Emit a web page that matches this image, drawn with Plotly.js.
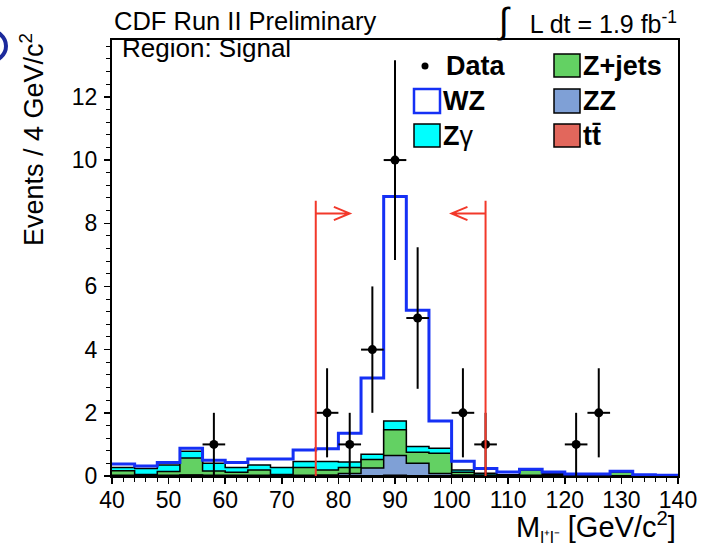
<!DOCTYPE html>
<html>
<head>
<meta charset="utf-8">
<script src="https://cdn.plot.ly/plotly-3.0.1.min.js"></script>
<style>html,body{margin:0;padding:0;background:#fff;}#chart{width:706px;height:546px;}</style>
</head>
<body>
<div id="chart"></div>
<script>
// Bin centres (GeV/c^2), 4 GeV bins
const binCenters = [42,46,50,54,58,62,66,70,74,78,82,86,90,94,98,102,106,110,114,118,122,126,130,134,138];
const binWidth = 4;
// Background / signal expectations per bin
const ttbar  = [0.01,0,0.01,0.02,0.01,0.01,0.01,0,0.01,0.01,0.01,0.01,0.02,0.01,0.01,0.01,0,0,0.01,0,0,0,0,0,0];
const zz     = [0.01,0.01,0.01,0.01,0.01,0.01,0.01,0.01,0.01,0.02,0.07,0.24,0.63,0.39,0.07,0.02,0.01,0.01,0.01,0.01,0.01,0.01,0.01,0,0];
const zjets  = [0.15,0.04,0.12,0.54,0.14,0.10,0.17,0.04,0.25,0.16,0.19,0.27,0.81,0.35,0.64,0.09,0.02,0.01,0.17,0.04,0.02,0.01,0.12,0.02,0.01];
const zgamma = [0.10,0.19,0.21,0.21,0.24,0.15,0.16,0.22,0.19,0.27,0.17,0.17,0.28,0.18,0.16,0.07,0.06,0.02,0.01,0.03,0.01,0.01,0.01,0.01,0];
const wz     = [0.11,0.08,0.08,0.10,0.10,0.16,0.19,0.27,0.36,0.40,0.91,2.41,7.11,4.32,0.86,0.28,0.15,0.09,0.01,0.05,0.02,0.03,0.01,0.01,0.01];
// Observed data
const dataX   = [58,78,82,86,90,94,102,106,122,126];
const dataY   = [1,2,1,4,10,5,2,1,1,2];
const dataErr = [1,1.41,1,2,3.16,2.24,1.41,1,1,1.41];
// Mass window cuts
const cutLow = 76, cutHigh = 106;

const edges = binCenters.map(c => c - binWidth/2).concat([binCenters[binCenters.length-1] + binWidth/2]);
function addArr(a,b){ return a.map((v,i)=>v+b[i]); }
const cTT = ttbar.slice();
const cZZ = addArr(cTT, zz);
const cZJ = addArr(cZZ, zjets);
const cZG = addArr(cZJ, zgamma);
const cWZ = addArr(cZG, wz);
function stepY(v){ return v.concat([v[v.length-1]]); }

const colCyan = '#00ffff', colGreen = '#63d163', colZZ = '#7fa0d6', colTT = '#e2675c', colWZ = '#1530f5', colRed = '#f2382a';

function filled(cum, col){
  return {x: edges, y: stepY(cum), type:'scatter', mode:'lines', line:{shape:'hv', color:'black', width:1.5},
          fill:'tozeroy', fillcolor: col, hoverinfo:'skip'};
}
const traces = [
  filled(cZG, colCyan),
  filled(cZJ, colGreen),
  filled(cZZ, colZZ),
  filled(cTT, colTT),
  {x: edges, y: stepY(cWZ), type:'scatter', mode:'lines', line:{shape:'hv', color:colWZ, width:3}},
  {x: dataX, y: dataY, type:'scatter', mode:'markers', marker:{color:'black', size:9},
   error_y:{type:'data', array:dataErr, color:'black', thickness:2, width:0},
   error_x:{type:'constant', value:binWidth/2, color:'black', thickness:2, width:0}}
];

const L = 112, R = 678, T = 40, B = 476;
const px = v => (v - L)/(R - L);
const py = v => (B - v)/(B - T);
const FONT = 'Liberation Sans, Arial, Helvetica, sans-serif';

function ann(text, x, y, xa, size, extra){
  return Object.assign({text:text, xref:'paper', yref:'paper', x:px(x), y:py(y), xanchor:xa, yanchor:'middle',
    showarrow:false, font:{family:FONT, size:size, color:'black'}}, extra||{});
}
function box(x0,y0,x1,y1,fill,lc,lw){
  return {type:'rect', xref:'paper', yref:'paper', x0:px(x0), x1:px(x1), y0:py(y1), y1:py(y0),
          fillcolor:fill, line:{color:lc, width:lw}};
}

const annotations = [
  ann('CDF Run II Preliminary', 112, 21, 'left', 25.5),
  ann('<span style="font-size:36px">∫</span>   L dt = 1.9 fb<sup>-1</sup>', 679, 20, 'right', 25),
  ann('Region: Signal', 120, 48, 'left', 26),
  ann('<b>Data</b>', 444, 66, 'left', 27),
  ann('<b>Z+jets</b>', 581, 66, 'left', 27),
  ann('<b>WZ</b>', 441, 101, 'left', 27),
  ann('<b>ZZ</b>', 581, 101, 'left', 27),
  ann('<b>Z</b>γ', 441, 136, 'left', 27),
  ann('<b>tt̄</b>', 581, 136, 'left', 27),
  ann('Events / 4 GeV/c<sup>2</sup>', 32, 140, 'center', 27, {textangle:-90}),
  ann('M<sub><span style="font-size:17px">l⁺l⁻</span></sub> [GeV/c<sup>2</sup>]', 678, 527, 'right', 29)
];

const shapes = [
  // cut lines and arrows
  {type:'line', xref:'x', yref:'y', x0:cutLow, x1:cutLow, y0:0, y1:8.71, line:{color:colRed, width:2}},
  {type:'line', xref:'x', yref:'y', x0:cutHigh, x1:cutHigh, y0:0, y1:8.71, line:{color:colRed, width:2}},
  {type:'path', xref:'x', yref:'y', path:'M76,8.31 L82,8.31 M79.2,8.52 L82,8.31 L79.2,8.10', line:{color:colRed, width:2}},
  {type:'path', xref:'x', yref:'y', path:'M106,8.31 L100,8.31 M102.8,8.52 L100,8.31 L102.8,8.10', line:{color:colRed, width:2}},
  // legend
  {type:'circle', xref:'paper', yref:'paper', x0:px(421.5), x1:px(428.5), y0:py(69.5), y1:py(62.5), fillcolor:'black', line:{color:'black', width:0}},
  box(554,54,580,77,colGreen,'black',1.5),
  box(414,89,440,113,'white',colWZ,2.5),
  box(554,89,580,113,colZZ,'black',1.5),
  box(414,124,440,147,colCyan,'black',1.5),
  box(554,124,580,147,colTT,'black',1.5),
  // partial logo at top-left
  {type:'circle', xref:'paper', yref:'paper', x0:px(-30), x1:px(6), y0:py(62), y1:py(30), line:{color:'#1c2a9c', width:4}, fillcolor:'rgba(0,0,0,0)'}
];

const axisCommon = {showline:true, linecolor:'black', linewidth:2, mirror:true, showgrid:false, zeroline:false,
  ticks:'outside', ticklen:6, tickwidth:1.5, tickcolor:'black', tickfont:{family:FONT, size:23, color:'black'}};

const layout = {
  width:706, height:546,
  margin:{l:L, r:706-R, t:T, b:546-B},
  paper_bgcolor:'white', plot_bgcolor:'white',
  showlegend:false,
  font:{family:FONT, color:'black'},
  xaxis:Object.assign({}, axisCommon, {range:[40,140], tick0:40, dtick:10, ticklabelstandoff:-4,
    minor:{dtick:2, tick0:40, ticks:'outside', ticklen:4, tickwidth:1, tickcolor:'black', showgrid:false}}),
  yaxis:Object.assign({}, axisCommon, {range:[0,13.8], tick0:0, dtick:2, ticklabelstandoff:2,
    minor:{dtick:0.4, tick0:0, ticks:'outside', ticklen:4, tickwidth:1, tickcolor:'black', showgrid:false}}),
  annotations:annotations,
  shapes:shapes
};

Plotly.newPlot('chart', traces, layout, {staticPlot:true, displayModeBar:false});
</script>
</body>
</html>
